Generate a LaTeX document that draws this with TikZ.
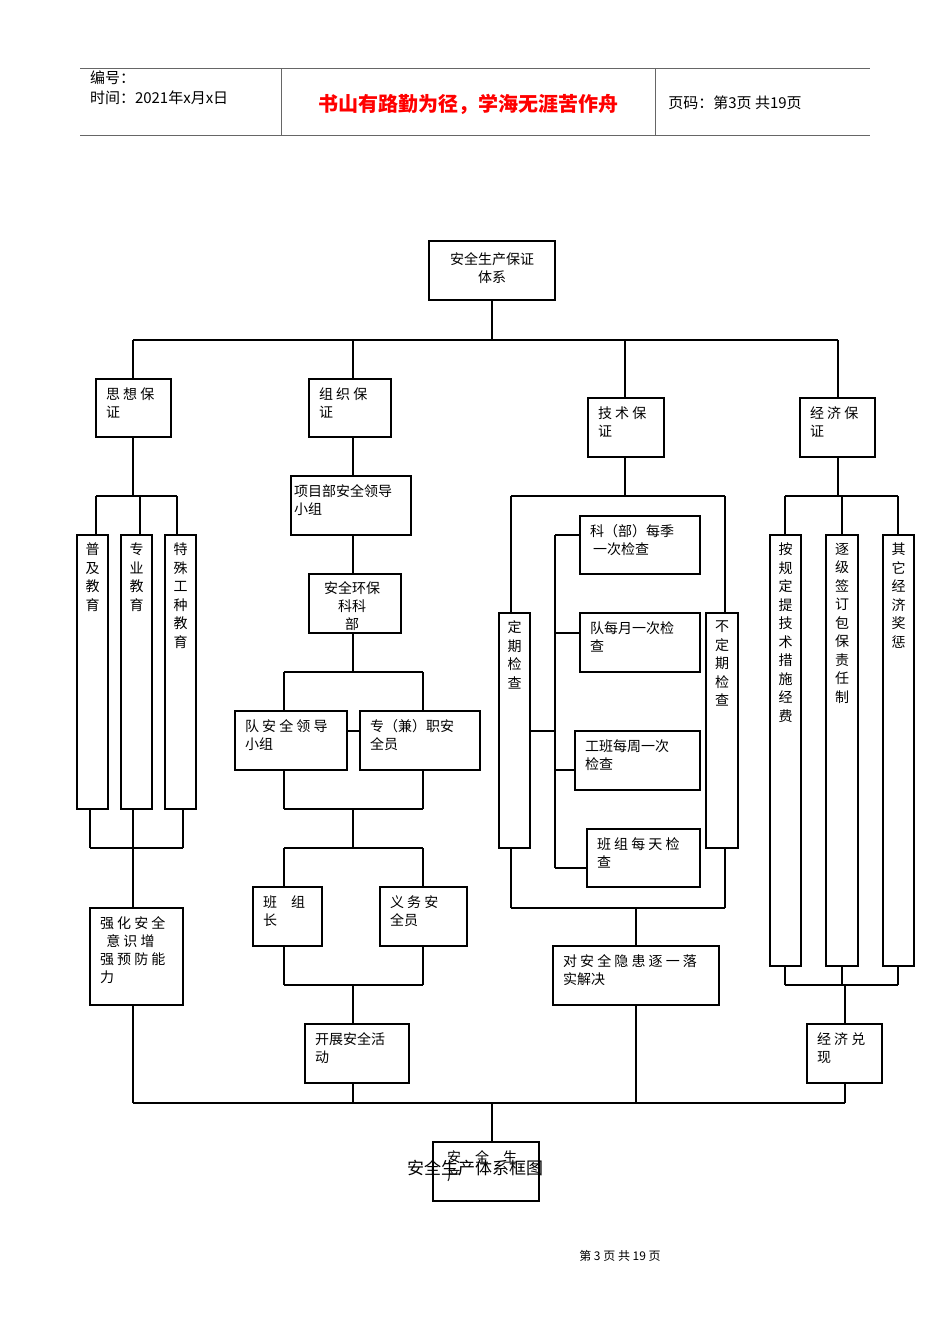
\documentclass[tikz,border=0pt]{standalone}
\usepackage{fontspec}
\setmainfont{Noto Sans CJK SC}
\begin{document}
\begin{tikzpicture}[x=1pt,y=-1pt,line width=2pt,
 t/.style={anchor=north west,inner sep=0pt,font=\fontsize{14}{18}\selectfont,align=left},
 v/.style={anchor=north,inner sep=0pt,font=\fontsize{14}{18.5}\selectfont,align=center}]
\useasboundingbox (0,0) rectangle (950,1344);
% header
\draw[line width=1pt,gray!80!black] (80,68)--(870,68) (80,135)--(870,135) (281,68)--(281,135) (655,68)--(655,135);
\node[t,font=\fontsize{15}{20}\selectfont] at (89,70) {编号：\\时间：2021年x月x日};
\node[font=\bfseries\fontsize{20}{22}\selectfont,text=red] at (468,104) {书山有路勤为径，学海无涯苦作舟};
\node[anchor=west,font=\fontsize{15}{18}\selectfont] at (664,103) {页码：第3页 共19页};
\newcommand{\bx}[5]{\draw (#1,#2) rectangle (#3,#4); \node[t] at (#1+9,#2+8) {#5};}
\newcommand{\vb}[5]{\draw (#1,#2) rectangle (#3,#4); \node[v] at ({(#1+#3)/2},#2+7) {#5};}
% top
\draw (429,241) rectangle (555,300);
\node[font=\fontsize{14}{18}\selectfont,align=center] at (492,268) {安全生产保证\\体系};
\draw (492,300)--(492,340) (133,340)--(838,340);
\draw (133,340)--(133,379) (353,340)--(353,379) (625,340)--(625,398) (838,340)--(838,398);
\bx{96}{379}{171}{437}{思 想 保\\证}
\bx{309}{379}{391}{437}{组 织 保\\证}
\bx{588}{398}{664}{457}{技 术 保\\证}
\bx{800}{398}{875}{457}{经 济 保\\证}
% left
\draw (133,437)--(133,496) (96,496)--(177,496) (96,496)--(96,535) (140,496)--(140,535) (177,496)--(177,535);
\vb{77}{535}{108}{809}{普\\及\\教\\育}
\vb{121}{535}{152}{809}{专\\业\\教\\育}
\vb{165}{535}{196}{809}{特\\殊\\工\\种\\教\\育}
\draw (90,809)--(90,848) (133,809)--(133,848) (183,809)--(183,848) (90,848)--(183,848) (133,848)--(133,908);
\bx{90}{908}{183}{1005}{强 化 安 全\\\ \ 意 识 增\\强 预 防 能\\力}
\draw (133,1005)--(133,1103);
% org
\draw (353,437)--(353,476);
\draw (291,476) rectangle (411,535); \node[t] at (293,484) {项目部安全领导\\小组};
\draw (353,535)--(353,574);
\draw (309,574) rectangle (401,633); \node[font=\fontsize{14}{18}\selectfont,align=center,inner sep=0pt] at (352,606) {安全环保\\科科\\部};
\draw (353,633)--(353,672) (284,672)--(423,672) (284,672)--(284,711) (423,672)--(423,711);
\bx{235}{711}{347}{770}{队 安 全 领 导\\小组}
\bx{360}{711}{480}{770}{专（兼）职安\\全员}
\draw (347,731)--(360,731);
\draw (284,770)--(284,809) (423,770)--(423,809) (284,809)--(423,809) (353,809)--(353,848) (284,848)--(423,848) (284,848)--(284,887) (423,848)--(423,887);
\bx{253}{887}{322}{946}{班\quad 组\\长}
\bx{380}{887}{467}{946}{义 务 安\\全员}
\draw (284,946)--(284,985) (423,946)--(423,985) (284,985)--(423,985) (353,985)--(353,1024);
\bx{305}{1024}{409}{1083}{开展安全活\\动}
\draw (353,1083)--(353,1103);
% tech
\draw (625,457)--(625,496) (511,496)--(725,496) (511,496)--(511,613) (725,496)--(725,613);
\vb{499}{613}{530}{848}{定\\期\\检\\查}
\vb{706}{613}{738}{848}{不\\定\\期\\检\\查}
\draw (530,731)--(555,731) (555,535)--(555,868) (555,535)--(580,535) (555,633)--(580,633) (555,770)--(575,770) (555,868)--(587,868);
\bx{580}{516}{700}{574}{科（部）每季\\\ 一次检查}
\bx{580}{613}{700}{672}{队每月一次检\\查}
\bx{575}{731}{700}{790}{工班每周一次\\检查}
\bx{587}{829}{700}{887}{班 组 每 天 检\\查}
\draw (511,848)--(511,908) (725,848)--(725,908) (511,908)--(725,908) (636,908)--(636,946);
\bx{553}{946}{719}{1005}{对 安 全 隐 患 逐 一 落\\实解决}
\draw (636,1005)--(636,1103);
% econ
\draw (838,457)--(838,496) (785,496)--(898,496) (785,496)--(785,535) (842,496)--(842,535) (898,496)--(898,535);
\vb{770}{535}{801}{966}{按\\规\\定\\提\\技\\术\\措\\施\\经\\费}
\vb{826}{535}{858}{966}{逐\\级\\签\\订\\包\\保\\责\\任\\制}
\vb{883}{535}{914}{966}{其\\它\\经\\济\\奖\\惩}
\draw (785,966)--(785,985) (842,966)--(842,985) (898,966)--(898,985) (785,985)--(898,985) (845,985)--(845,1024);
\bx{807}{1024}{882}{1083}{经 济 兑\\现}
\draw (845,1083)--(845,1103);
% bottom
\draw (133,1103)--(845,1103) (492,1103)--(492,1142);
\draw (433,1142) rectangle (539,1201);
\node[t] at (446,1150) {安\quad 全\quad 生\\产};
\node[font=\fontsize{17}{20}\selectfont] at (475,1168) {安全生产体系框图};
\node[font=\fontsize{12}{14}\selectfont] at (620,1256) {第 3 页 共 19 页};
\end{tikzpicture}
\end{document}
